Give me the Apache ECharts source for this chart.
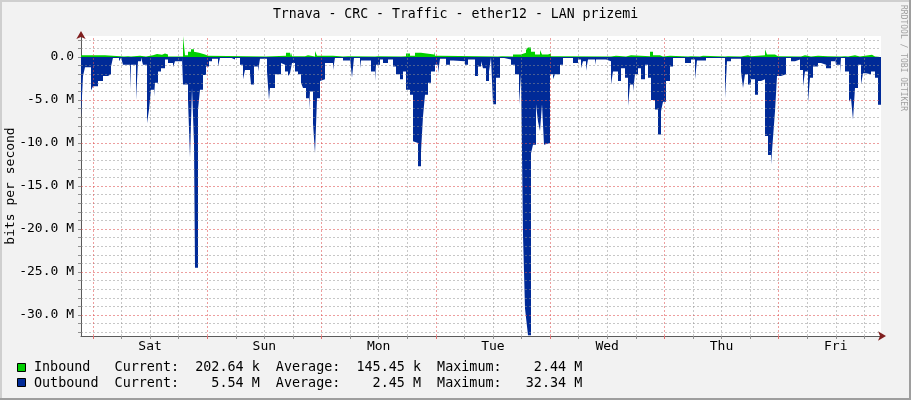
<!DOCTYPE html>
<html><head><meta charset="utf-8">
<script src="https://cdn.jsdelivr.net/npm/echarts@6/dist/echarts.min.js"></script>
<style>html,body{margin:0;padding:0;background:#F2F2F2}#c{width:911px;height:400px}</style>
</head><body><div id="c"></div>
<script>
// ---- texts ----
const TITLE = 'Trnava - CRC - Traffic - ether12 - LAN prizemi';
const Y_TITLE = 'bits per second';
const WATERMARK = 'RRDTOOL / TOBI OETIKER';
const dayLabels = ['Sat', 'Sun', 'Mon', 'Tue', 'Wed', 'Thu', 'Fri'];
// hours since start of graph (start = Fri 21:30)
const dayStart = [2.5, 26.5, 50.5, 74.5, 98.5, 122.5, 146.5];
const dayNoon = [14.5, 38.5, 62.5, 86.5, 110.5, 134.5, 158.5];
const X_MIN = 0, X_MAX = 168;
const Y_MIN = -32.44, Y_MAX = 2.44;       // Mbit/s
const yMajor = [0, -5, -10, -15, -20, -25, -30];
const yMinor = [2, 1, -1, -2, -3, -4, -6, -7, -8, -9, -11, -12, -13, -14, -16, -17, -18, -19,
                -21, -22, -23, -24, -26, -27, -28, -29, -31, -32];

// ---- legend ----
const legendNames = ['Inbound', 'Outbound'];
const legendCurrent = ['202.64 k', '5.54 M'];
const legendAverage = ['145.45 k', '2.45 M'];
const legendMaximum = ['2.44 M', '32.34 M'];

// ---- data (hours since start, Mbit/s) ----
const inTime = [0.00, 5.04, 9.03, 9.87, 10.50, 12.39, 13.65, 15.12, 15.96, 17.01, 17.64, 18.27,
  21.42, 21.84, 22.47, 23.10, 23.73, 24.15, 24.78, 26.04, 26.67, 38.85, 43.05, 43.89, 44.10,
  44.31, 47.04, 47.67, 49.14, 49.56, 52.92, 55.02, 56.07, 61.74, 62.37, 67.20, 68.25, 69.09,
  70.14, 71.40, 74.13, 74.34, 75.39, 87.57, 88.41, 90.72, 92.40, 93.45, 93.87, 94.50, 95.34,
  96.39, 96.81, 98.07, 98.70, 100.17, 111.30, 112.35, 114.45, 115.50, 119.49, 120.12, 121.59,
  122.22, 123.69, 127.47, 128.10, 129.99, 130.62, 135.24, 135.87, 138.60, 140.07, 140.70,
  143.64, 144.06, 145.74, 146.37, 151.20, 152.04, 153.30, 154.77, 156.87, 159.60, 160.44,
  161.07, 162.54, 163.59, 164.64, 165.06, 166.11, 166.74, 168.00];
const inValue = [0.2, 0.05, 0.1, 0.05, 0.15, 0.05, 0.2, 0.35, 0.25, 0.4, 0.3, 0.05,
  2.44, 0.2, 0.6, 0.9, 0.6, 0.5, 0.3, 0.15, 0.05, 0.15, 0.5, 0.1, 0.5,
  0.1, 0.2, 0.05, 0.7, 0.15, 0.05, 0.1, 0.05, 0.1, 0.05, 0.1, 0.4, 0.15,
  0.5, 0.3, 0.6, 0.15, 0.05, 0.1, 0.05, 0.3, 0.5, 0.8, 1.1, 0.6, 0.3,
  0.8, 0.3, 0.4, 0.1, 0.05, 0.15, 0.05, 0.2, 0.1, 0.6, 0.2, 0.05,
  0.15, 0.05, 0.1, 0.05, 0.15, 0.05, 0.1, 0.05, 0.2, 0.1, 0.2,
  0.9, 0.3, 0.1, 0.05, 0.2, 0.05, 0.15, 0.1, 0.05, 0.1, 0.05,
  0.2, 0.05, 0.15, 0.05, 0.25, 0.05, 0.15, 0.2];

const outTime = [0.00, 0.42, 0.84, 2.10, 2.52, 3.57, 4.62, 5.67, 6.30, 6.72, 7.98, 8.40, 8.82,
  10.29, 10.50, 11.55, 11.97, 12.60, 13.02, 13.86, 14.28, 14.70, 15.33, 15.54, 16.17, 16.80,
  17.64, 18.27, 19.32, 19.74, 21.21, 21.42, 22.47, 22.89, 23.31, 23.73, 23.94, 24.57, 24.99,
  25.62, 26.25, 26.88, 27.51, 28.77, 29.19, 31.50, 32.34, 33.39, 34.02, 34.44, 35.49, 35.70,
  36.33, 37.17, 37.59, 39.06, 39.48, 39.69, 40.74, 42.00, 42.42, 42.84, 43.47, 43.89, 44.31,
  44.94, 45.57, 46.20, 46.62, 47.25, 47.88, 48.09, 48.72, 49.14, 49.56, 50.19, 50.40, 51.24,
  52.92, 53.34, 55.02, 56.49, 56.91, 57.33, 58.59, 58.80, 60.90, 61.74, 61.95, 62.79, 63.42,
  64.47, 65.52, 66.15, 66.99, 67.62, 68.25, 69.09, 69.72, 70.14, 70.77, 71.40, 71.82, 72.24,
  72.87, 73.50, 74.34, 74.97, 75.39, 76.65, 77.49, 78.12, 80.64, 81.27, 82.74, 83.37, 84.00,
  84.42, 85.05, 85.68, 86.10, 86.52, 87.15, 87.99, 88.62, 90.30, 91.14, 91.98, 92.40, 92.82,
  93.24, 93.45, 93.87, 94.50, 94.92, 95.55, 95.97, 96.39, 96.81, 97.23, 97.65, 98.49, 99.12,
  99.54, 100.59, 101.22, 103.32, 104.37, 105.00, 105.42, 106.05, 106.47, 107.94, 108.15,
  110.25, 111.30, 111.72, 112.77, 113.40, 114.24, 114.87, 115.29, 115.92, 116.34, 116.97,
  117.60, 118.44, 119.07, 119.70, 120.54, 121.17, 121.80, 122.22, 122.85, 123.69, 124.32,
  126.84, 128.10, 128.94, 129.36, 131.25, 135.24, 135.66, 136.50, 138.60, 139.02, 139.44,
  140.07, 140.70, 141.54, 142.17, 142.80, 143.64, 144.27, 144.90, 145.32, 145.74, 146.16,
  147.00, 148.05, 149.10, 149.94, 150.99, 151.62, 152.04, 152.67, 153.09, 153.72, 154.77,
  155.40, 156.45, 157.50, 158.34, 158.55, 159.39, 159.60, 160.44, 161.28, 161.70, 162.12,
  162.54, 163.17, 163.80, 164.22, 164.85, 165.90, 166.74, 167.37, 168.00];
const outValue = [-6.9, -2.2, -1.2, -3.9, -3.4, -2.8, -2.2, -2.0, -1.1, -0.1, -0.5, -0.1, -0.9,
  -3.8, -0.9, -5.0, -0.5, -0.05, -0.9, -7.7, -6.1, -3.8, -4.6, -3.0, -1.7, -1.3,
  -0.3, -0.7, -1.2, -0.5, -0.05, -3.2, -5.0, -11.7, -3.6, -10.0, -24.5, -6.1, -3.8,
  -2.1, -1.1, -0.5, -0.2, -1.1, -0.1, -0.3, -0.05, -0.9, -2.6, -1.5, -2.0, -3.2,
  -1.1, -1.7, -0.2, -1.7, -5.0, -3.6, -2.0, -0.7, -0.9, -1.7, -2.2, -1.9, -0.7,
  -1.7, -2.0, -3.0, -3.6, -4.8, -6.1, -4.0, -7.7, -11.2, -4.8, -2.8, -2.6, -0.7,
  -1.5, -0.1, -0.4, -0.1, -2.4, -0.1, -1.3, -0.4, -1.7, -2.8, -0.9, -0.3, -0.7,
  -0.3, -1.1, -2.0, -2.6, -1.7, -3.8, -4.4, -9.8, -10.0, -12.7, -11.0, -6.9, -4.4,
  -3.0, -1.7, -0.9, -1.9, -0.2, -0.9, -0.4, -0.5, -0.9, -0.3, -2.2, -1.1, -0.5,
  -1.3, -2.8, -1.7, -0.05, -5.5, -2.4, -0.1, -0.3, -0.9, -2.0, -5.5, -2.0, -20.7,
  -29.2, -30.3, -32.34, -11.2, -10.2, -5.5, -7.5, -8.6, -5.5, -10.2, -10.0, -2.0, -2.6,
  -2.0, -0.9, -0.05, -0.7, -0.3, -1.3, -0.5, -1.6, -0.3, -0.9, -0.3,
  -0.5, -3.2, -1.7, -2.8, -1.3, -2.4, -5.7, -3.2, -4.0, -2.0, -1.3,
  -2.6, -0.9, -2.4, -5.0, -6.1, -9.0, -6.3, -5.2, -2.8, -1.1, -0.05,
  -0.7, -0.3, -2.6, -0.4, -0.05, -4.8, -0.5, -0.2, -1.7, -3.6, -2.0,
  -3.2, -2.6, -4.4, -2.8, -2.6, -9.2, -11.4, -12.5, -9.4, -6.3, -2.2,
  -2.0, -0.1, -0.5, -0.3, -1.5, -3.4, -1.7, -5.3, -2.4, -1.1, -0.7,
  -0.9, -1.3, -0.5, -0.2, -0.9, -1.9, -0.1, -1.7, -5.2, -4.8, -7.3,
  -3.6, -0.9, -3.2, -1.9, -2.0, -1.7, -2.4, -5.54, -5.54];

// ---- styles ----
const MONO = '"DejaVu Sans Mono", monospace';
const C_IN = '#00CF00', C_OUT = '#002A97';
const C_GRID = 'rgba(143,143,143,0.5)', C_MGRID = 'rgba(222,79,79,0.55)';
const C_AXIS = '#5a5a5a', C_ARROW = '#801F1F';

function zip(a, b) { return a.map((t, i) => [t, b[i]]); }

const minorX = [];
dayStart.forEach(d => { [6, 12, 18].forEach(o => { if (d + o < X_MAX) minorX.push(d + o); }); });

const gridLine = (color) => ({ color: color, width: 1, type: [2, 2] });
const gridMarks = []
  .concat(yMinor.map(v => ({ yAxis: v, lineStyle: gridLine(C_GRID) })))
  .concat(minorX.map(v => ({ xAxis: v, lineStyle: gridLine(C_GRID) })))
  .concat(yMajor.filter(v => v !== 0).map(v => ({ yAxis: v, lineStyle: gridLine(C_MGRID) })))
  .concat(dayStart.map(v => ({ xAxis: v, lineStyle: gridLine(C_MGRID) })));

const chart = echarts.init(document.getElementById('c'), null, { renderer: 'canvas' });

const legendLines = legendNames.map((n, i) => {
  const pad = (s, w) => ' '.repeat(Math.max(0, w - s.length)) + s;
  return (n + ' '.repeat(10 - n.length)) + 'Current:' + pad(legendCurrent[i], 10) +
    '  Average:' + pad(legendAverage[i], 10) + '  Maximum:' + pad(legendMaximum[i], 10);
});

chart.setOption({
  animation: false,
  backgroundColor: '#F2F2F2',
  grid: { left: 81, right: 30, top: 36, bottom: 64, show: true, backgroundColor: '#FFFFFF', borderWidth: 0,
    containLabel: false, outerBoundsMode: 'none' },
  xAxis: [
    { type: 'value', min: X_MIN, max: X_MAX,
      axisLine: { show: true, onZero: false, lineStyle: { color: C_AXIS, width: 1 } },
      axisTick: { show: true, length: 3, customValues: minorX, lineStyle: { color: '#909090' } },
      axisLabel: { show: false }, splitLine: { show: false } },
    { type: 'value', min: X_MIN, max: X_MAX, position: 'bottom',
      axisLine: { show: true, onZero: false, symbol: ['none', 'arrow'], symbolSize: [7, 8], symbolOffset: [0, 5],
        lineStyle: { color: C_ARROW, width: 0 } },
      axisTick: { show: true, length: 3, customValues: dayStart, lineStyle: { color: '#E07070' } },
      axisLabel: { show: false }, splitLine: { show: false } }
  ],
  yAxis: [
    { type: 'value', min: Y_MIN, max: Y_MAX, splitNumber: 7,
      name: Y_TITLE, nameLocation: 'middle', nameGap: 64, nameRotate: 90, nameMoveOverlap: false,
      nameTextStyle: { fontFamily: MONO, fontSize: 13, color: '#000' },
      axisLine: { show: true, onZero: false, lineStyle: { color: C_AXIS, width: 1 } },
      axisTick: { show: true, length: 3, customValues: yMajor.concat(yMinor), lineStyle: { color: '#909090' } },
      axisLabel: { fontFamily: MONO, fontSize: 13, color: '#000', margin: 7,
        showMinLabel: false, showMaxLabel: false,
        formatter: v => (v === 0 ? '0.0' : v.toFixed(1) + ' M') },
      splitLine: { show: false } },
    { type: 'value', min: Y_MIN, max: Y_MAX, position: 'left',
      axisLine: { show: true, onZero: false, symbol: ['none', 'arrow'], symbolSize: [7, 8], symbolOffset: [0, 5],
        lineStyle: { color: C_ARROW, width: 0 } },
      axisTick: { show: false }, axisLabel: { show: false }, splitLine: { show: false } }
  ],
  series: [
    { name: 'Inbound', type: 'line', step: 'end', symbol: 'none', z: 2,
      data: zip(inTime, inValue), lineStyle: { width: 0 }, areaStyle: { color: C_IN, opacity: 1 } },
    { name: 'Outbound', type: 'line', step: 'end', symbol: 'none', z: 2,
      data: zip(outTime, outValue), lineStyle: { width: 0 }, areaStyle: { color: C_OUT, opacity: 1 },
      markLine: { silent: true, symbol: ['none', 'none'], label: { show: false },
        lineStyle: { color: C_OUT, width: 1, type: 'solid' }, data: [{ yAxis: 0 }] } },
    { name: 'grid', type: 'line', data: [], z: 4, silent: true,
      markLine: { silent: true, symbol: ['none', 'none'], label: { show: false }, data: gridMarks } },
    { name: 'days', type: 'line', data: [], z: 4, silent: true,
      markLine: { silent: true, symbol: ['none', 'none'],
        lineStyle: { color: 'transparent', width: 0 },
        label: { show: true, position: 'start', distance: 4, fontFamily: MONO, fontSize: 13, color: '#000',
          formatter: p => p.name },
        data: dayNoon.map((v, i) => ({ xAxis: v, name: dayLabels[i] })) } }
  ],
  graphic: [
    { type: 'rect', shape: { x: 0, y: 0, width: 911, height: 2 }, style: { fill: '#CFCFCF' }, silent: true },
    { type: 'rect', shape: { x: 0, y: 0, width: 2, height: 400 }, style: { fill: '#CFCFCF' }, silent: true },
    { type: 'rect', shape: { x: 0, y: 398, width: 911, height: 2 }, style: { fill: '#9E9E9E' }, silent: true },
    { type: 'rect', shape: { x: 909, y: 0, width: 2, height: 400 }, style: { fill: '#9E9E9E' }, silent: true },
    { type: 'text', x: 455.5, y: 15, silent: true,
      style: { text: TITLE, font: '13.2px ' + MONO, fill: '#000', align: 'center', verticalAlign: 'middle' } },
    { type: 'text', x: 903, y: 58, rotation: -Math.PI / 2, silent: true,
      style: { text: WATERMARK, font: '8px ' + MONO, fill: '#A0A0A0', align: 'center', verticalAlign: 'middle' } },
    { type: 'rect', shape: { x: 17.5, y: 363.5, width: 8, height: 8 }, style: { fill: C_IN, stroke: '#000', lineWidth: 1 }, silent: true },
    { type: 'rect', shape: { x: 17.5, y: 378.5, width: 8, height: 8 }, style: { fill: C_OUT, stroke: '#000', lineWidth: 1 }, silent: true },
    { type: 'text', x: 34, y: 368, silent: true,
      style: { text: legendLines[0], font: '13.4px ' + MONO, fill: '#000', verticalAlign: 'middle' } },
    { type: 'text', x: 34, y: 384, silent: true,
      style: { text: legendLines[1], font: '13.4px ' + MONO, fill: '#000', verticalAlign: 'middle' } }
  ]
});
</script></body></html>
